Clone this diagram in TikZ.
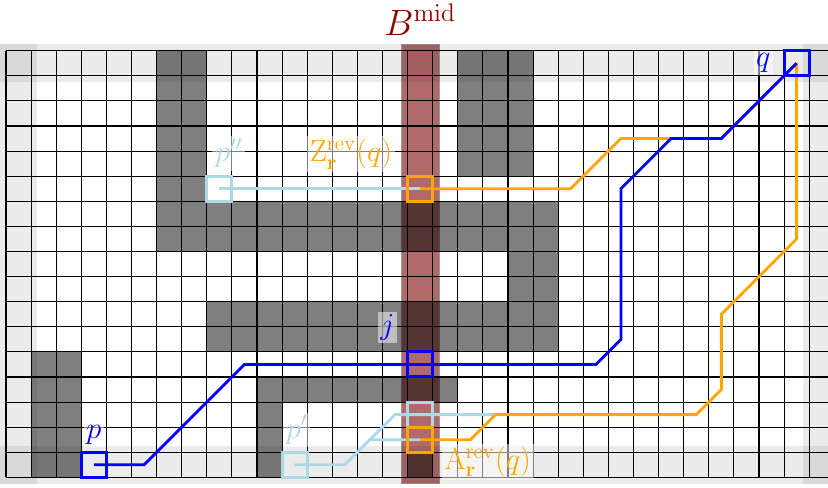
\documentclass[tikz,border=0pt]{standalone}
\usetikzlibrary{math,positioning}
\definecolor{routeorange}{RGB}{255,165,0}
\definecolor{routelight}{RGB}{173,216,230}
\definecolor{midfill}{RGB}{176,106,106}
\definecolor{midtext}{RGB}{139,0,0}

\begin{document}
\begin{tikzpicture}[x=0.5cm,y=0.5cm,
    cellbox/.style={draw,line width=1.7pt,minimum size=0.5cm,inner sep=0pt,outer sep=0pt},
    tag/.style={font=\LARGE,inner sep=1.5pt,fill=white,fill opacity=0.5,text opacity=1},
    route/.style={line width=1.6pt}]
    % The grid
    \tikzmath{integer \W,\H; \W=33; \H=17;}
    \useasboundingbox (-0.24,-0.39) rectangle (32.75,19.02);
    \fill[midfill,draw=black!40,line width=0.4pt] (15.75,-0.25) rectangle (17.25,\H+0.25);
    \fill[black,opacity=0.5]
      (6,9) rectangle (8,17) (6,9) rectangle (22,11) (20,7) rectangle (22,9)
      (8,5) rectangle (22,7) (18,12) rectangle (21,17) (10,0) rectangle (11,4)
      (10,3) rectangle (18,4) (1,0) rectangle (3,5) (16,0) rectangle (17,1);
    \draw[line width=0.6pt,step=1] (0,0) grid (\W,\H);
    % The border band
    \foreach \xa/\ya/\xb/\yb in {-0.25/-0.25/1.25/17.25, 31.75/-0.25/33.25/17.25,
        -0.25/-0.25/33.25/1.25, -0.25/15.75/33.25/17.25}
      \fill[black,opacity=0.08] (\xa,\ya) rectangle (\xb,\yb);

    % The cells on the routes
    \coordinate (p) at (3.5,0.5);
    \coordinate (q) at (31.5,16.5);
    \coordinate (j) at (16.5,4.5);
    \coordinate (pdd) at (8.5,11.5);
    \coordinate (pd) at (11.5,0.5);
    \coordinate (pm) at (16.5,2.5);
    \coordinate (zq) at (16.5,11.5);
    \coordinate (aq) at (16.5,1.5);
    \coordinate (fork) at (19.5,2.5);
    % The routes
    \draw[route,routelight] (pdd) -- (zq);
    \draw[route,routelight] (pd) -- (13.5,0.5) -- (14.5,1.5) -- (aq);
    \draw[route,routelight] (14.5,1.5) -- (15.5,2.5) -- (fork);
    \draw[route,routeorange] (q) -- (31.5,9.5) -- (28.5,6.5) -- (28.5,3.5)
      -- (27.5,2.5) -- (fork) -- (18.5,1.5) -- (aq);
    \draw[route,routeorange] (zq) -- (22.5,11.5) -- (24.5,13.5) -- (28.5,13.5) -- (q);
    \draw[route,blue] (p) -- (5.5,0.5) -- (9.5,4.5) -- (j) -- (23.5,4.5) -- (24.5,5.5)
      -- (24.5,11.5) -- (26.5,13.5) -- (28.5,13.5) -- (q);
    % The boxes
    \node[cellbox,routelight] (pddbox) at (pdd) {};
    \node[cellbox,routelight] (pdbox) at (pd) {};
    \node[cellbox,routelight] (pmbox) at (pm) {};
    \node[cellbox,routeorange] (zqbox) at (zq) {};
    \node[cellbox,routeorange] (aqbox) at (aq) {};
    \node[cellbox,blue] (pbox) at (p) {};
    \node[cellbox,blue] (qbox) at (q) {};
    \node[cellbox,blue] (jbox) at (j) {};

    \node[tag,text=blue,left=6pt of qbox] (qlabel) {$q$};
    \node[tag,text=blue,above=3pt of pbox] (plabel) {$p$};
    \node[tag,text=blue,above left=4.6pt and 5.7pt of jbox] (jlabel) {$j$};
    \node[tag,text=routelight,anchor=south west] (pddlabel)
      at ([shift={(3pt,3pt)}]pddbox.north west) {$p''$};
    \node[tag,text=routelight,anchor=south west] (pdlabel)
      at ([shift={(0.5pt,3pt)}]pdbox.north west) {$p'$};
    \node[tag,text=routeorange,anchor=south east] (zlabel)
      at ([shift={(-7pt,2.3pt)}]zqbox.north west) {$\mathrm{Z}^{\mathrm{rev}}_{\mathbf{r}}(q)$};
    \node[tag,text=routeorange,anchor=north west] (alabel)
      at ([shift={(5pt,5pt)}]aqbox.south east) {$\mathrm{A}^{\mathrm{rev}}_{\mathbf{r}}(q)$};
    \node[text=midtext,font=\fontsize{22}{26}\selectfont,anchor=base] (bmid)
      at (16.5,17.62) {$B^{\mathrm{mid}}$};
\end{tikzpicture}
\end{document}
